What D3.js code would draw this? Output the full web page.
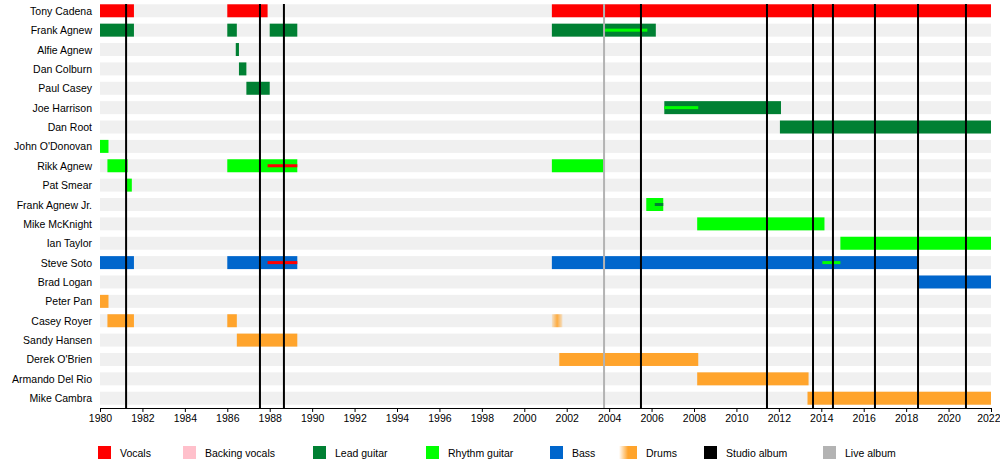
<!DOCTYPE html>
<html><head><meta charset="utf-8">
<script src="https://cdn.jsdelivr.net/npm/d3@7"></script>
<style>body{margin:0;background:#fff}text{font-family:"Liberation Sans",Arial,sans-serif;font-size:10.5px}</style>
</head><body><svg id="chart" width="1000" height="464"></svg>
<script>
const members = ["Tony Cadena","Frank Agnew","Alfie Agnew","Dan Colburn","Paul Casey","Joe Harrison","Dan Root","John O'Donovan","Rikk Agnew","Pat Smear","Frank Agnew Jr.","Mike McKnight","Ian Taylor","Steve Soto","Brad Logan","Peter Pan","Casey Royer","Sandy Hansen","Derek O'Brien","Armando Del Rio","Mike Cambra"];
// [member, role, start, end]
const periods = [
  ["Tony Cadena","vocals",1980,1981.6],["Tony Cadena","vocals",1986,1987.9],["Tony Cadena","vocals",2001.3,2022],
  ["Frank Agnew","lead",1980,1981.6],["Frank Agnew","lead",1986,1986.45],["Frank Agnew","lead",1988,1989.3],["Frank Agnew","lead",2001.3,2006.2],
  ["Alfie Agnew","lead",1986.4,1986.55],["Dan Colburn","lead",1986.55,1986.9],["Paul Casey","lead",1986.9,1988],
  ["Joe Harrison","lead",2006.6,2012.1],["Dan Root","lead",2012.05,2022],
  ["John O'Donovan","rhythm",1980,1980.4],
  ["Rikk Agnew","rhythm",1980.35,1981.3],["Rikk Agnew","rhythm",1986,1989.3],["Rikk Agnew","rhythm",2001.3,2003.75],
  ["Pat Smear","rhythm",1981.2,1981.5],["Frank Agnew Jr.","rhythm",2005.75,2006.55],
  ["Mike McKnight","rhythm",2008.15,2014.15],["Ian Taylor","rhythm",2014.9,2022],
  ["Steve Soto","bass",1980,1981.6],["Steve Soto","bass",1986,1989.3],["Steve Soto","bass",2001.3,2018.55],
  ["Brad Logan","bass",2018.55,2022],
  ["Peter Pan","drums",1980,1980.4],
  ["Casey Royer","drums",1980.35,1981.6],["Casey Royer","drums",1986,1986.45],["Casey Royer","drumsfade",2001.3,2001.8],
  ["Sandy Hansen","drums",1986.45,1989.3],["Derek O'Brien","drums",2001.65,2008.2],
  ["Armando Del Rio","drums",2008.15,2013.4],["Mike Cambra","drums",2013.35,2022]
];
const secondary = [
  ["Frank Agnew","rhythm",2003.75,2005.8],["Joe Harrison","rhythm",2006.6,2008.2],
  ["Rikk Agnew","vocals",1987.9,1989.3],["Frank Agnew Jr.","lead",2006.15,2006.55],
  ["Steve Soto","vocals",1987.9,1989.3],["Steve Soto","rhythm",2014.05,2014.9]
];
const studioAlbums = [1981.23,1987.54,1988.67,2005.5,2011.44,2013.61,2014.55,2016.53,2018.56,2020.82];
const liveAlbums = [2003.76];
const legendItems = [["vocals","Vocals"],["backing","Backing vocals"],["lead","Lead guitar"],["rhythm","Rhythm guitar"],["bass","Bass"],["drums","Drums"],["studio","Studio album"],["live","Live album"]];
const legendX = [98,183,313,426,550,624,704,823];
const colors = {vocals:"#ff0000",backing:"#ffc0cb",lead:"#008033",rhythm:"#00ff00",bass:"#0066cc",drums:"#ffa42c",drumsfade:"#ffa42c",studio:"#000",live:"#b3b3b3"};

const svg = d3.select("#chart");
const defs = svg.append("defs");
const g1 = defs.append("linearGradient").attr("id","fade");
g1.append("stop").attr("offset","0").attr("stop-color","#ffa42c").attr("stop-opacity",0.2);
g1.append("stop").attr("offset","0.5").attr("stop-color","#ffa42c").attr("stop-opacity",0.9);
g1.append("stop").attr("offset","1").attr("stop-color","#ffa42c").attr("stop-opacity",0.2);
const g2 = defs.append("linearGradient").attr("id","fadeL");
g2.append("stop").attr("offset","0").attr("stop-color","#ffa42c").attr("stop-opacity",0);
g2.append("stop").attr("offset","0.5").attr("stop-color","#ffa42c").attr("stop-opacity",1);

const X = d3.scaleLinear().domain([1980,2022]).range([100,991]);
const Y = d3.scaleBand().domain(members).range([1,408]).paddingInner(0.33).paddingOuter(0.17);
const bh = Y.bandwidth();

svg.append("g").selectAll("rect").data(members).join("rect")
  .attr("x",X(1980)).attr("width",X(2022)-X(1980)).attr("y",d=>Y(d)).attr("height",bh).attr("fill","#f0f0f0");

svg.append("g").selectAll("text").data(members).join("text")
  .attr("x",92).attr("y",d=>Y(d)+bh/2+4).attr("text-anchor","end").text(d=>d);

svg.append("g").selectAll("rect").data(periods).join("rect")
  .attr("x",d=>X(d[2])).attr("width",d=>X(d[3])-X(d[2])).attr("y",d=>Y(d[0])).attr("height",bh)
  .attr("fill",d=>d[1]==="drumsfade"?"url(#fade)":colors[d[1]]);

svg.append("g").selectAll("rect").data(secondary).join("rect")
  .attr("x",d=>X(d[2])).attr("width",d=>X(d[3])-X(d[2])).attr("y",d=>Y(d[0])+bh/2-1.5).attr("height",3)
  .attr("fill",d=>colors[d[1]]);

svg.append("g").selectAll("line").data(liveAlbums).join("line")
  .attr("x1",d=>X(d)).attr("x2",d=>X(d)).attr("y1",4).attr("y2",408).attr("stroke",colors.live).attr("stroke-width",2);
svg.append("g").selectAll("line").data(studioAlbums).join("line")
  .attr("x1",d=>X(d)).attr("x2",d=>X(d)).attr("y1",4).attr("y2",408).attr("stroke","#000").attr("stroke-width",2);

const ax = svg.append("g").attr("transform","translate(0,408)")
  .call(d3.axisBottom(X).tickValues(d3.range(1980,2023,2)).tickFormat(d3.format("d")).tickSize(4).tickSizeOuter(0));
ax.select(".domain").attr("stroke","#000");
ax.selectAll("text").style("font-size","10.5px").attr("fill","#000");
ax.selectAll(".tick").filter(d=>d===2022).select("text").attr("text-anchor","end").attr("dx","9");

const lg = svg.append("g").selectAll("g").data(legendItems).join("g")
  .attr("transform",(d,i)=>`translate(${legendX[i]},446)`);
lg.append("rect").attr("width",d=>d[0]==="drums"?18:13).attr("x",d=>d[0]==="drums"?-5:0).attr("height",13)
  .attr("fill",d=>d[0]==="drums"?"url(#fadeL)":colors[d[0]]);
lg.append("text").attr("x",22).attr("y",11).text(d=>d[1]);
</script></body></html>
